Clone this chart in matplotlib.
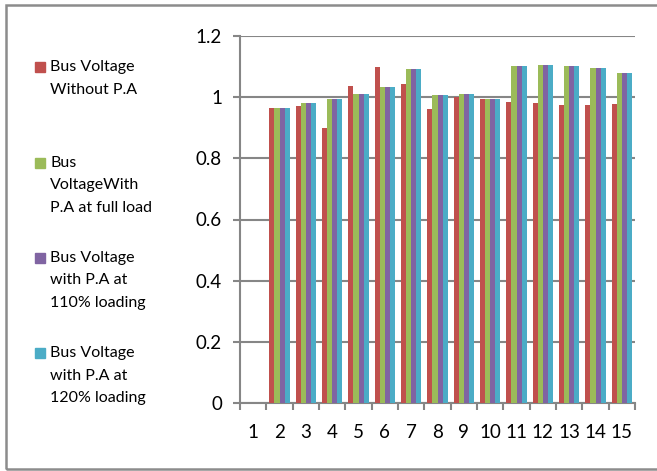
import numpy as np
import matplotlib.pyplot as plt
from matplotlib.patches import Rectangle

plt.rcParams['font.family'] = ['Lato', 'DejaVu Sans']

# bus numbers and per-unit voltages for each case
buses = list(range(1, 16))
v_without_pa = [0, 0.965, 0.970, 0.899, 1.037, 1.099, 1.042, 0.962,
                1.000, 0.992, 0.983, 0.979, 0.975, 0.975, 0.977]
v_full_load = [0, 0.965, 0.979, 0.993, 1.011, 1.033, 1.092, 1.006,
               1.010, 0.992, 1.100, 1.103, 1.100, 1.095, 1.077]
v_110_load = [0, 0.965, 0.979, 0.993, 1.011, 1.033, 1.092, 1.006,
              1.010, 0.992, 1.100, 1.103, 1.100, 1.095, 1.077]
v_120_load = [0, 0.965, 0.979, 0.993, 1.011, 1.033, 1.092, 1.006,
              1.010, 0.992, 1.100, 1.103, 1.100, 1.095, 1.077]

series_labels = [
    ["Bus Voltage", "Without P.A"],
    ["Bus", "VoltageWith", "P.A at full load"],
    ["Bus Voltage", "with P.A at", "110% loading"],
    ["Bus Voltage", "with P.A at", "120% loading"],
]
colors = ['#C0504D', '#9BBB59', '#8064A2', '#4BACC6']
series = [v_without_pa, v_full_load, v_110_load, v_120_load]

W, H = 657, 471
fig = plt.figure(figsize=(W / 100, H / 100), dpi=100)
ax = fig.add_axes([240 / W, 1 - 403.3 / H, 395 / W, 367.6 / H])

grid_col = '#868686'
x = np.array(buses)
bw = 0.19
for i, (vals, col) in enumerate(zip(series, colors)):
    ax.bar(x + (i - 1.5) * bw, vals, width=bw, color=col, zorder=3)

ax.set_xlim(0.5, 15.5)
ax.set_ylim(0, 1.2)
ax.set_yticks([0, 0.2, 0.4, 0.6, 0.8, 1.0, 1.2])
ax.set_yticklabels(['0', '0.2', '0.4', '0.6', '0.8', '1', '1.2'])
ax.set_xticks(buses)
ax.set_xticklabels([str(b) for b in buses])
ax.set_xticks(np.arange(0.5, 15.6, 1), minor=True)

ax.yaxis.grid(True, color=grid_col, linewidth=1.5, zorder=0)
ax.set_axisbelow(True)
for s in ['top', 'right']:
    ax.spines[s].set_visible(False)
for s in ['left', 'bottom']:
    ax.spines[s].set_color(grid_col)
    ax.spines[s].set_linewidth(1.5)

ax.tick_params(axis='y', length=5, width=1.5, color=grid_col, pad=8,
               labelsize=13.5, labelcolor='black')
ax.tick_params(axis='x', which='major', length=0, pad=15,
               labelsize=13.5, labelcolor='black')
ax.tick_params(axis='x', which='minor', length=5, width=1.5, color=grid_col)

# legend on the left, drawn by hand
entry_tops = [67, 163, 258, 353]
for lines, col, y0 in zip(series_labels, colors, entry_tops):
    fig.patches.append(Rectangle((35 / W, 1 - (y0 + 5) / H), 10 / W, 10 / H,
                                 transform=fig.transFigure, color=col))
    for k, line in enumerate(lines):
        fig.text(50 / W, 1 - (y0 + 22.5 * k) / H, line, fontsize=11.5,
                 va='center', ha='left')

# outer frame
fig.patches.append(Rectangle((6 / W, 1 - 469 / H), 660 / W, 464 / H,
                             transform=fig.transFigure, fill=False,
                             edgecolor='#8c8c8c', linewidth=1.8))

fig.savefig('out.png', dpi=100)
